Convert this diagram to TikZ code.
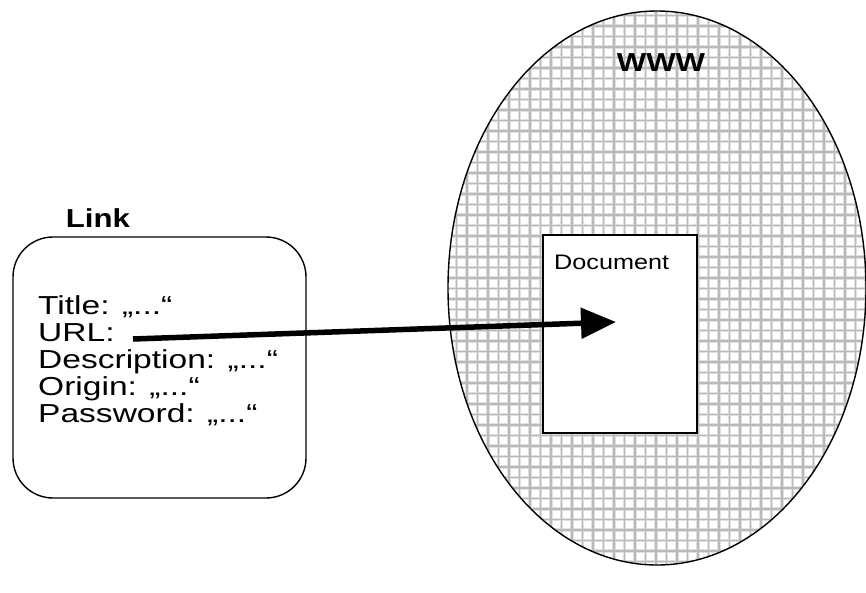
\documentclass[tikz,border=0pt]{standalone}
\usepackage{fontspec}
\setmainfont{Liberation Sans}
\newfontfamily\widesans[FakeStretch=1.2]{Liberation Sans}
\newfontfamily\widerfields[FakeStretch=1.29]{Liberation Sans}
\usetikzlibrary{arrows.meta}
\begin{document}
\begin{tikzpicture}[x=1pt,y=-1pt,
  outline/.style={draw=black,line width=1.4pt},
  gridhalo/.style={draw=black!12,line width=3.2pt},
  gridline/.style={draw=black!27,line width=1.6pt},
  fieldtext/.style={font=\widerfields\fontsize{26}{27}\selectfont,align=left,anchor=base west,inner sep=0pt},
  heading/.style={font=\widesans\bfseries\fontsize{26}{30}\selectfont,inner sep=0pt},
  linkarrow/.style={line width=5.5pt,-{Triangle[length=35pt,width=30pt]}}
]
\useasboundingbox (0,0) rectangle (866,592);

% the web as a hatched ellipse
\begin{scope}
  \clip (657,288) ellipse [x radius=209, y radius=277];
  \fill[white] (440,0) rectangle (866,592);
  \foreach \gx in {446,456.5,...,870} \draw[gridhalo] (\gx,0) -- (\gx,592);
  \foreach \gy in {5,15.5,...,592} \draw[gridhalo] (440,\gy) -- (870,\gy);
  \foreach \gx in {446,456.5,...,870} \draw[gridline] (\gx,0) -- (\gx,592);
  \foreach \gy in {5,15.5,...,592} \draw[gridline] (440,\gy) -- (870,\gy);
\end{scope}
\draw[outline] (657,288) ellipse [x radius=209, y radius=277];
\node[heading] (www) at (661,63) {WWW};

% document inside the web
\node[outline,fill=white,minimum width=154pt,minimum height=198pt,inner sep=0pt] (doc) at (620,334) {};
\node[font=\widesans\fontsize{21}{24}\selectfont,anchor=west,inner sep=0pt] (doclabel) at (554,262) {Document};
\coordinate (target) at (616,322);

% the link record; the anchor sits on the baseline of the last field line
\node[outline,rounded corners=40pt,minimum width=293pt,minimum height=261pt,inner sep=0pt] (link) at (159.5,367.5) {};
\node[heading] (linktitle) at (98,218) {Link};
\node[fieldtext] (fields) at (38,422) {Title: „...“\\URL:\\Description: „...“\\Origin: „...“\\Password: „...“};
\coordinate (urlend) at (133,339);

\draw[linkarrow] (urlend) -- (target);
\end{tikzpicture}
\end{document}
